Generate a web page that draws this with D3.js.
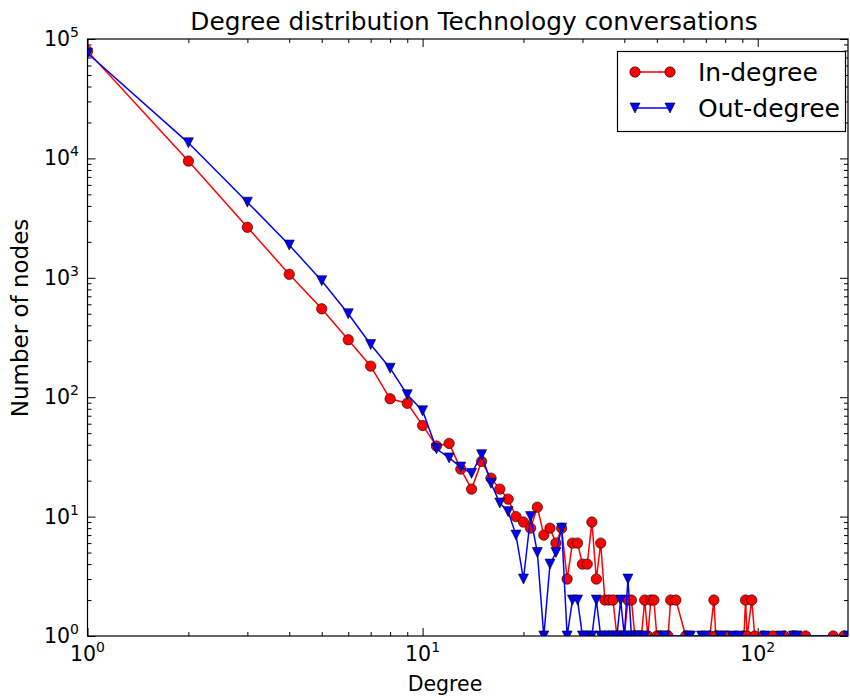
<!DOCTYPE html>
<html>
<head>
<meta charset="utf-8">
<script src="https://cdn.jsdelivr.net/npm/d3@7"></script>
<style>
  body { margin: 0; background: #fff; }
  svg { display: block; font-family: "DejaVu Sans", sans-serif; }
</style>
</head>
<body>
<svg id="chart" width="850" height="698"></svg>
<script>
// in-degree histogram (degree -> number of nodes)
const inDegree = [1, 2, 3, 4, 5, 6, 7, 8, 9, 10, 11, 12, 13, 14, 15, 16, 17, 18, 19, 20,
  21, 22, 23, 24, 25, 26, 27, 28, 29, 30, 31, 32, 33, 34, 35, 36, 37, 38, 39, 40,
  41, 42, 43, 44, 45, 46, 47, 48, 49, 50, 51, 54, 55, 57, 61, 72, 74, 75, 81, 91,
  92, 93, 96, 98, 104, 111, 120, 128, 139, 168, 181];
const inCount = [79000, 9500, 2650, 1070, 550, 303, 182, 97, 89, 58, 39, 41, 25, 17, 29, 21, 17, 14, 10, 9,
  8, 12, 7, 8, 6, 8, 3, 6, 6, 4, 4, 9, 3, 6, 2, 2, 2, 1, 1, 1,
  2, 2, 1, 1, 1, 2, 1, 2, 2, 1, 1, 1, 2, 2, 1, 1, 2, 1, 1, 1,
  2, 1, 2, 1, 1, 1, 1, 1, 1, 1, 1];

// out-degree histogram
const outDegree = [1, 2, 3, 4, 5, 6, 7, 8, 9, 10, 11, 12, 13, 14, 15, 16, 17, 18, 19, 20,
  21, 22, 23, 24, 25, 26, 27, 28, 29, 30, 31, 32, 33, 34, 35, 36, 37, 38, 39, 40,
  41, 42, 43, 44, 46, 52, 53, 62, 63, 68, 70, 77, 78, 84, 88, 105, 117, 128, 131, 186];
const outCount = [76000, 13500, 4300, 1880, 945, 500, 276, 175, 105, 77, 37, 31, 26, 23, 33, 19, 13, 11, 7, 3,
  10, 5, 1, 4, 5, 8, 1, 2, 2, 1, 1, 1, 2, 1, 1, 1, 1, 1, 2, 1,
  3, 1, 1, 1, 1, 1, 1, 1, 1, 1, 1, 1, 1, 1, 1, 1, 1, 1, 1, 1];

const xMajor = [1, 10, 100];
const yMajor = [1, 10, 100, 1000, 10000, 100000];
const seriesNames = ["In-degree", "Out-degree"];

const box = { left: 87.5, right: 848, top: 39, bottom: 636 };

var svg = d3.select("#chart");

var x = d3.scaleLog().domain([1, 186]).range([box.left, box.right]);
var y = d3.scaleLog().domain([1, 100000]).range([box.bottom, box.top]);

// minor ticks 2..9 of each decade
function minors(scale) {
    var dom = scale.domain(), out = [];
    for (var e = Math.floor(Math.log10(dom[0])); e <= Math.ceil(Math.log10(dom[1])); e++) {
        for (var k = 2; k < 10; k++) {
            var v = k * Math.pow(10, e);
            if (v > dom[0] && v < dom[1]) out.push(v);
        }
    }
    return out;
}

function tickAxis(axisFn, scale, values, size, transform) {
    svg.append("g")
        .attr("transform", transform)
        .call(axisFn(scale).tickValues(values).tickSizeInner(size).tickSizeOuter(0).tickFormat(""))
        .call(g => g.select(".domain").remove())
        .selectAll("line").attr("stroke", "#000").attr("stroke-width", 1);
}

tickAxis(d3.axisBottom, x, xMajor, -8, `translate(0,${box.bottom})`);
tickAxis(d3.axisBottom, x, minors(x), -4, `translate(0,${box.bottom})`);
tickAxis(d3.axisTop, x, xMajor, -8, `translate(0,${box.top})`);
tickAxis(d3.axisTop, x, minors(x), -4, `translate(0,${box.top})`);
tickAxis(d3.axisLeft, y, yMajor, -8, `translate(${box.left},0)`);
tickAxis(d3.axisLeft, y, minors(y), -4, `translate(${box.left},0)`);
tickAxis(d3.axisRight, y, yMajor, -8, `translate(${box.right},0)`);
tickAxis(d3.axisRight, y, minors(y), -4, `translate(${box.right},0)`);

svg.append("defs").append("clipPath").attr("id", "plotclip")
    .append("rect")
    .attr("x", box.left).attr("y", box.top)
    .attr("width", box.right - box.left).attr("height", box.bottom - box.top);

var plot = svg.append("g").attr("clip-path", "url(#plotclip)");

var line = d3.line().x(d => x(d[0])).y(d => y(d[1]));
var inData = inDegree.map((d, i) => [d, inCount[i]]);
var outData = outDegree.map((d, i) => [d, outCount[i]]);

var triangle = "M0,5L-5,-5L5,-5Z";

plot.append("path").datum(inData)
    .attr("d", line).attr("fill", "none").attr("stroke", "#ff0000").attr("stroke-width", 1.5);
plot.selectAll(".in-pt").data(inData).enter().append("circle")
    .attr("class", "in-pt")
    .attr("cx", d => x(d[0])).attr("cy", d => y(d[1])).attr("r", 5.2)
    .attr("fill", "#ff0000").attr("stroke", "#000").attr("stroke-width", 0.6);

plot.append("path").datum(outData)
    .attr("d", line).attr("fill", "none").attr("stroke", "#0000ff").attr("stroke-width", 1.5);
plot.selectAll(".out-pt").data(outData).enter().append("path")
    .attr("class", "out-pt")
    .attr("transform", d => `translate(${x(d[0])},${y(d[1])})`)
    .attr("d", triangle)
    .attr("fill", "#0000ff").attr("stroke", "#000").attr("stroke-width", 0.6);

// frame
svg.append("rect")
    .attr("x", box.left).attr("y", box.top)
    .attr("width", box.right - box.left).attr("height", box.bottom - box.top)
    .attr("fill", "none").attr("stroke", "#000").attr("stroke-width", 1.2);

// tick labels as 10^k
function powLabel(sel, k) {
    sel.append("tspan").text("10");
    sel.append("tspan").attr("dy", -9).attr("font-size", "14px").text(k);
}
xMajor.forEach(function (v) {
    var t = svg.append("text")
        .attr("x", x(v)).attr("y", 661)
        .attr("text-anchor", "middle").attr("font-size", "20.5px");
    powLabel(t, Math.round(Math.log10(v)));
});
yMajor.forEach(function (v) {
    var t = svg.append("text")
        .attr("x", 79).attr("y", y(v) + 7)
        .attr("text-anchor", "end").attr("font-size", "20.5px");
    powLabel(t, Math.round(Math.log10(v)));
});

svg.append("text")
    .attr("x", 474).attr("y", 30)
    .attr("text-anchor", "middle").attr("font-size", "24.8px")
    .text("Degree distribution Technology conversations");

svg.append("text")
    .attr("x", 445).attr("y", 691)
    .attr("text-anchor", "middle").attr("font-size", "20.5px")
    .text("Degree");

svg.append("text")
    .attr("transform", `translate(28,318) rotate(-90)`)
    .attr("text-anchor", "middle").attr("font-size", "23px")
    .text("Number of nodes");

// legend
var lg = svg.append("g");
lg.append("rect")
    .attr("x", 617.5).attr("y", 51.5).attr("width", 228).attr("height", 80)
    .attr("fill", "#fff").attr("stroke", "#000").attr("stroke-width", 1.2);
var legendRows = [
    { name: seriesNames[0], color: "#ff0000", shape: "circle", y: 72 },
    { name: seriesNames[1], color: "#0000ff", shape: "tri", y: 108 }
];
legendRows.forEach(function (r) {
    lg.append("line").attr("x1", 635).attr("x2", 670).attr("y1", r.y).attr("y2", r.y)
        .attr("stroke", r.color).attr("stroke-width", 1.5);
    [635, 670].forEach(function (mx) {
        if (r.shape === "circle") {
            lg.append("circle").attr("cx", mx).attr("cy", r.y).attr("r", 5.2)
                .attr("fill", r.color).attr("stroke", "#000").attr("stroke-width", 0.6);
        } else {
            lg.append("path").attr("transform", `translate(${mx},${r.y})`).attr("d", triangle)
                .attr("fill", r.color).attr("stroke", "#000").attr("stroke-width", 0.6);
        }
    });
    lg.append("text").attr("x", 698).attr("y", r.y + 8.5)
        .attr("font-size", "25px").text(r.name);
});
</script>
</body>
</html>
